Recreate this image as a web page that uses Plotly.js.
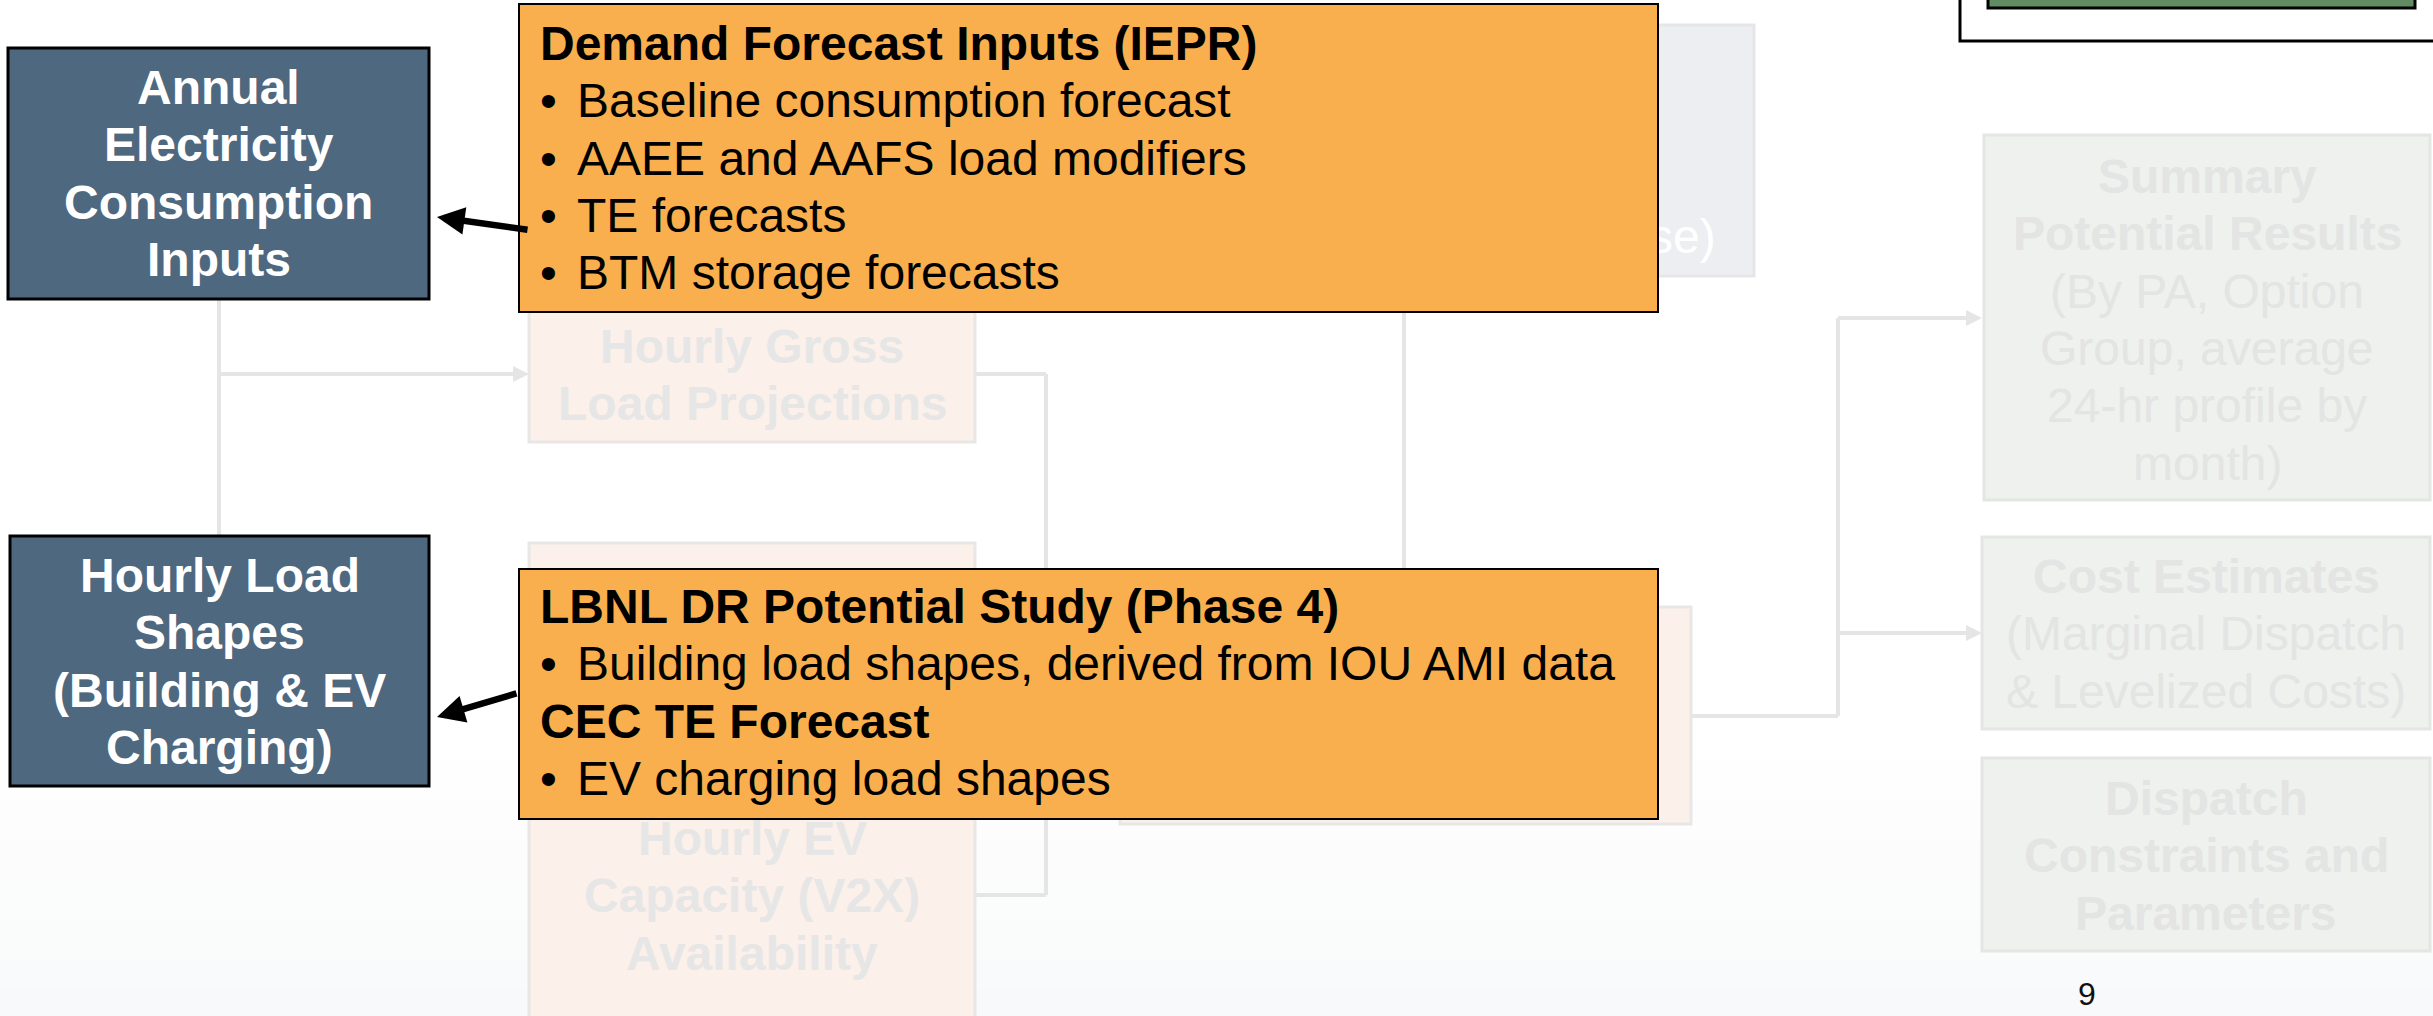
<!DOCTYPE html>
<html><head><meta charset="utf-8">
<script src="https://cdn.plot.ly/plotly-3.0.1.min.js"></script>
<style>html,body{margin:0;padding:0;background:#fff;overflow:hidden}</style>
</head><body><div id="chart" style="width:2433px;height:1016px"></div>
<script>
// ---- text content (data) ----
const annualLabel = ["Annual", "Electricity", "Consumption", "Inputs"];
const hourlyLoadLabel = ["Hourly Load", "Shapes", "(Building & EV", "Charging)"];
const demandTitle = ["Demand Forecast Inputs (IEPR)"];
const demandBullets = ["Baseline consumption forecast", "AAEE and AAFS load modifiers", "TE forecasts", "BTM storage forecasts"];
const lbnlTitle = ["LBNL DR Potential Study (Phase 4)"];
const lbnlBullets = ["Building load shapes, derived from IOU AMI data"];
const cecTitle = ["CEC TE Forecast"];
const cecBullets = ["EV charging load shapes"];
const grossLabel = ["Hourly Gross", "Load Projections"];
const evLabel = ["Hourly EV", "Capacity (V2X)", "Availability"];
const summaryBold = ["Summary", "Potential Results"];
const summaryPlain = ["(By PA, Option", "Group, average", "24-hr profile by", "month)"];
const costBold = ["Cost Estimates"];
const costPlain = ["(Marginal Dispatch", "& Levelized Costs)"];
const dispatchBold = ["Dispatch", "Constraints and", "Parameters"];
const hiddenBoxTail = ["se)"];
const pageNumber = ["9"];

// ---- layout geometry (pixels on a 2433 x 1016 canvas) ----
const W = 2433, H = 1016;
const FS = 48, LH = 57.4, FONT = "Liberation Sans, Arial, sans-serif";
const G = {
  annual: [8, 48, 429, 299],
  hload: [10, 536, 429, 786],
  demand: [518, 3, 1659, 313],
  lbnl: [518, 568, 1659, 820],
  gross: [529, 306, 975, 442],
  ev: [529, 543, 975, 1100],
  mid: [1120, 607, 1691, 824],
  topgray: [1054, 25, 1754, 276],
  summary: [1984, 135, 2430, 500],
  cost: [1982, 537, 2430, 729],
  dispatch: [1982, 758, 2430, 951],
  legendOuter: [1960, -10, 2450, 41],
  legendBar: [1988, -10, 2415, 8]
};
const C = {
  blue: "#4E6880", orange: "#F9AF4D", peach: "#FBF0EA", peachLine: "#E9E7E6",
  gray: "#EDEEF1", grayLine: "#E6E6E8", green: "#EEF1EE", greenLine: "#E4E6E4",
  ghost: "#E6E6E6", conn: "#E5E5E5", legendGreen: "#618B63"
};

const shapes = [];
const ann = [];
function rect(b, fill, lc, lw) {
  shapes.push({type: "rect", xref: "x", yref: "y", x0: b[0], y0: b[1], x1: b[2], y1: b[3],
    fillcolor: fill, line: {color: lc, width: lw}, layer: "above"});
}
function seg(x0, y0, x1, y1) {
  shapes.push({type: "line", xref: "x", yref: "y", x0, y0, x1, y1, line: {color: C.conn, width: 4}});
}
function headRight(x, y) {
  shapes.push({type: "path", xref: "x", yref: "y", path: `M ${x} ${y} L ${x - 16} ${y - 8} L ${x - 16} ${y + 8} Z`,
    fillcolor: C.conn, line: {color: C.conn, width: 0}});
}
function lines(arr, x, firstBase, opts) {
  const size = opts.size || FS;
  arr.forEach((t, i) => {
    const base = firstBase + i * LH;
    const y = base - 0.3465 * size;
    if (opts.bullet) {
      ann.push({xref: "x", yref: "y", x: x, y: y, yanchor: "middle", xanchor: "left", showarrow: false,
        borderpad: 0, text: "\u2022", font: {family: FONT, size: size, color: opts.color}});
    }
    ann.push({xref: "x", yref: "y", x: opts.bullet ? x + 37 : x, y: y, yanchor: "middle",
      xanchor: opts.anchor || "center", showarrow: false, borderpad: 0,
      text: opts.bold ? "<b>" + t + "</b>" : t,
      font: {family: FONT, size: size, color: opts.color}});
  });
}
const cx = b => (b[0] + b[2]) / 2;

// soft background shading toward the bottom of the slide
const bandTops = [760, 800, 840, 880, 920, 960, 990];
const bandFills = ["#FEFEFE", "#FDFDFE", "#FCFCFD", "#FBFCFC", "#FAFBFB", "#F9FAFB", "#F8F9FA"];
bandTops.forEach((t, i) => {
  shapes.push({type: "rect", xref: "x", yref: "y", x0: 0, y0: t, x1: W, y1: H,
    fillcolor: bandFills[i], line: {width: 0}, layer: "below"});
});

// connectors
seg(219, 299, 219, 536);
seg(219, 374, 514, 374); headRight(529, 374);
seg(975, 374, 1046, 374); seg(1046, 374, 1046, 895); seg(1046, 895, 975, 895);
seg(1046, 716, 1105, 716); headRight(1120, 716);
seg(1404, 276, 1404, 607);
seg(1691, 716, 1838, 716); seg(1838, 318, 1838, 716);
seg(1838, 318, 1967, 318); headRight(1982, 318);
seg(1838, 633, 1967, 633); headRight(1982, 633);

// ghost boxes
rect(G.topgray, C.gray, C.grayLine, 3);
rect(G.gross, C.peach, C.peachLine, 3);
rect(G.ev, C.peach, C.peachLine, 3);
rect(G.mid, C.peach, C.peachLine, 3);
rect(G.summary, C.green, C.greenLine, 3);
rect(G.cost, C.green, C.greenLine, 3);
rect(G.dispatch, C.green, C.greenLine, 3);
// blue input boxes
rect(G.annual, C.blue, "#000", 3);
rect(G.hload, C.blue, "#000", 3);
// legend corner box
rect(G.legendOuter, "#FFFFFF", "#000", 3);
rect(G.legendBar, C.legendGreen, "#000", 3);

// ghost texts
lines(hiddenBoxTail, 1717, 253, {anchor: "right", color: "#FFFFFF"});
lines(grossLabel, cx(G.gross), 363, {bold: true, color: C.ghost});
lines(evLabel, cx(G.ev), 855, {bold: true, color: C.ghost});
lines(summaryBold, cx(G.summary), 193, {bold: true, color: "#E3E4E3"});
lines(summaryPlain, cx(G.summary), 193 + 2 * LH, {color: "#E3E4E3"});
lines(costBold, cx(G.cost), 593, {bold: true, color: "#E3E4E3"});
lines(costPlain, cx(G.cost), 593 + LH, {color: "#E3E4E3"});
lines(dispatchBold, cx(G.dispatch), 815, {bold: true, color: "#E3E4E3"});

// orange callout boxes (annotation backgrounds so they cover what lies beneath)
[G.demand, G.lbnl].forEach(b => {
  ann.push({xref: "x", yref: "y", x: cx(b), y: (b[1] + b[3]) / 2, xanchor: "center", yanchor: "middle",
    text: " ", showarrow: false, width: b[2] - b[0] - 4, height: b[3] - b[1] - 4,
    bgcolor: C.orange, bordercolor: "#000", borderwidth: 2, borderpad: 0,
    font: {family: FONT, size: 10, color: C.orange}});
});
lines(demandTitle, 539, 60, {anchor: "left", bold: true, color: "#000"});
lines(demandBullets, 539, 60 + LH, {anchor: "left", bullet: true, color: "#000"});
lines(lbnlTitle, 539, 623, {anchor: "left", bold: true, color: "#000"});
lines(lbnlBullets, 539, 623 + LH, {anchor: "left", bullet: true, color: "#000"});
lines(cecTitle, 539, 623 + 2 * LH, {anchor: "left", bold: true, color: "#000"});
lines(cecBullets, 539, 623 + 3 * LH, {anchor: "left", bullet: true, color: "#000"});

// black pointer arrows
[[437, 217, 529, 230], [437, 717, 518, 693]].forEach(a => {
  ann.push({xref: "x", yref: "y", axref: "x", ayref: "y", x: a[0], y: a[1], ax: a[2], ay: a[3],
    text: "", showarrow: true, arrowhead: 2, arrowsize: 0.85, arrowwidth: 6.5, arrowcolor: "#000", standoff: 0});
});

// blue box labels
lines(annualLabel, cx(G.annual), 104, {bold: true, color: "#FFFFFF"});
lines(hourlyLoadLabel, cx(G.hload), 592, {bold: true, color: "#FFFFFF"});

// page number
lines(pageNumber, 2087, 1005, {size: 32, color: "#111"});

const layout = {
  width: W, height: H, margin: {l: 0, r: 0, t: 0, b: 0, pad: 0},
  paper_bgcolor: "#FFFFFF", plot_bgcolor: "#FFFFFF", showlegend: false,
  xaxis: {range: [0, W], visible: false, fixedrange: true},
  yaxis: {range: [H, 0], visible: false, fixedrange: true},
  shapes: shapes, annotations: ann
};
Plotly.newPlot("chart", [], layout, {staticPlot: true, displayModeBar: false});
</script></body></html>
